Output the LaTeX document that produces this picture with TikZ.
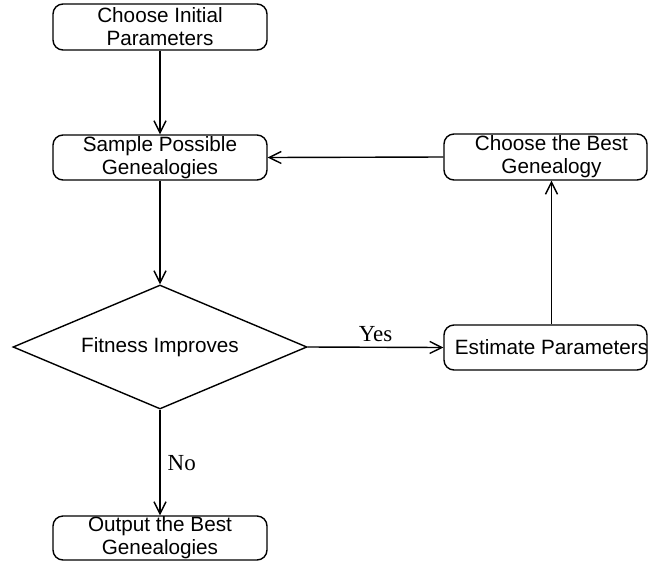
\documentclass[tikz,border=0pt]{standalone}
\usepackage{fontspec}
\setmainfont{Liberation Serif}
\setsansfont{Liberation Sans}
\usetikzlibrary{shapes.geometric,arrows.meta}
\begin{document}
\begin{tikzpicture}[x=1pt,y=-1pt,
  line width=1.4pt,
  procbox/.style={draw, rectangle, rounded corners=10pt, inner sep=0pt,
    font=\sffamily\fontsize{20.7}{23}\selectfont, align=center},
  txt/.style={inner sep=0pt, font=\sffamily\fontsize{20.7}{23}\selectfont, align=center},
  decision/.style={draw, diamond, inner sep=0pt, minimum width=294pt, minimum height=124pt,
    shape aspect=2.37, font=\sffamily\fontsize{20.7}{23}\selectfont},
  arr/.style={-{Straight Barb[length=12pt,width=12pt,line width=1.4pt]}},
  edgelab/.style={font=\fontsize{23}{26}\selectfont, inner sep=0pt}]
\useasboundingbox (0,0) rectangle (648,566);

% process boxes on the left column
\node[procbox, minimum width=214pt, minimum height=46pt] (init) at (160,27)
  {Choose Initial\\Parameters};
\node[procbox, minimum width=214pt, minimum height=45pt] (sample) at (160,157.5)
  {Sample Possible\\Genealogies};
\node[decision] (fit) at (160,347) {Fitness Improves};
\node[procbox, minimum width=214pt, minimum height=44pt] (out) at (160,538)
  {Output the Best\\Genealogies};

% boxes on the right column
\node[procbox, minimum width=203pt, minimum height=46pt] (best) at (545.5,157) {};
\node[txt] (besttxt) at (551.5,157) {Choose the Best\\Genealogy};
\node[procbox, minimum width=203pt, minimum height=45pt] (est) at (545.5,347.5) {};
\node[txt] (esttxt) at (551.5,347.5) {Estimate Parameters};

% connectors
\draw[arr] (init.south) -- (sample.north);
\draw[arr] (sample.south) -- (fit.north);
\draw[arr] (fit.east) -- node[edgelab, above=5pt, pos=0.5] {Yes} (est.west);
\draw[arr] (est.north -| esttxt) -- (best.south -| besttxt);
\draw[arr] (best.west) -- (sample.east);
\draw[arr] (fit.south) -- node[edgelab, right=7pt, pos=0.51] {No} (out.north);
\end{tikzpicture}
\end{document}
